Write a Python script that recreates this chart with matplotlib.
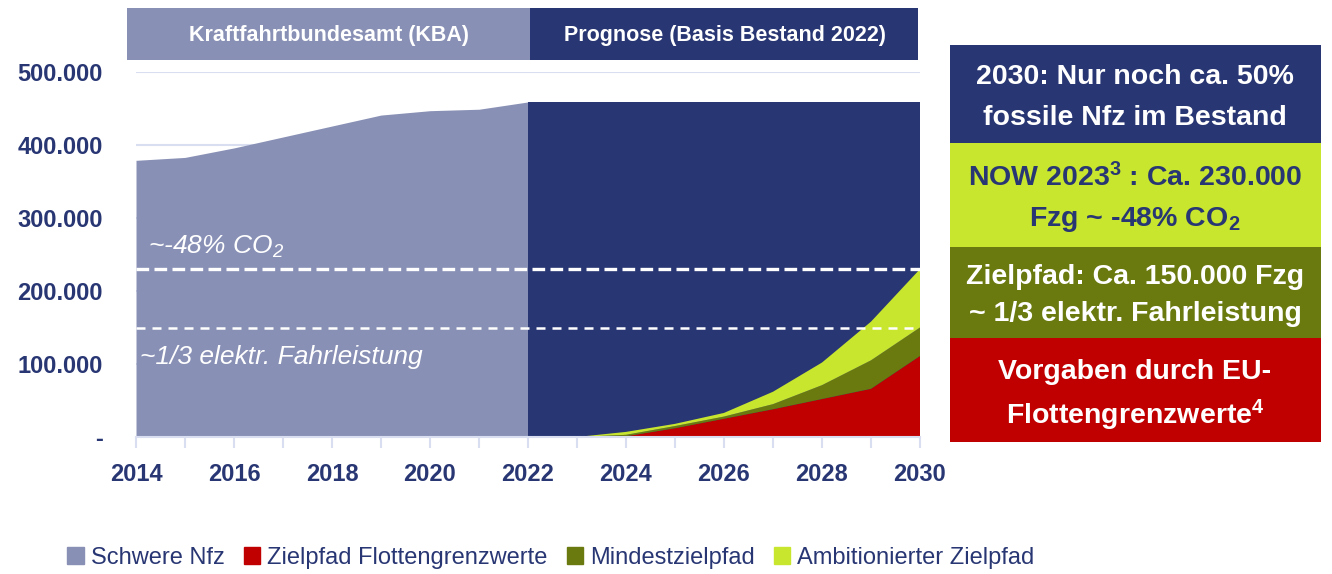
import matplotlib
matplotlib.use("Agg")
import matplotlib.pyplot as plt
from matplotlib.patches import Rectangle, Patch

# Bestand schwere Nfz (KBA bis 2022, danach Prognose konstant)
years_hist = [2014, 2015, 2016, 2017, 2018, 2019, 2020, 2021, 2022]
nfz_hist = [379000, 383000, 396000, 411000, 426000, 441000, 447000, 449000, 459000]
years_prog = [2022, 2030]
nfz_prog = [459000, 459000]

# Elektro-Pfade (gestapelt, jeweils Anteil der Schicht)
years_e = [2023, 2024, 2025, 2026, 2027, 2028, 2029, 2030]
zielpfad = [0, 1000, 12000, 25000, 38000, 52000, 66000, 111000]
mindest = [0, 2000, 3000, 3000, 7000, 19000, 39000, 39000]
ambitioniert = [0, 4000, 3000, 5000, 17000, 31000, 53000, 80000]

line_co2 = 230000
line_fahr = 150000

yticks = [0, 100000, 200000, 300000, 400000, 500000]
ytick_labels = ["-", "100.000", "200.000", "300.000", "400.000", "500.000"]
xticks = [2014, 2016, 2018, 2020, 2022, 2024, 2026, 2028, 2030]

navy = "#283673"
light = "#8890b5"
red = "#c00000"
olive = "#6b7a0f"
lime = "#c8e62e"
grid_c = "#d9def0"

fam = ["Liberation Sans", "DejaVu Sans"]
plt.rcParams["font.family"] = fam

W, H = 1332, 574
def fx(px):
    return px / W
def fy(py):
    return 1 - py / H

fig = plt.figure(figsize=(13.32, 5.74), dpi=100)
ax = fig.add_axes([fx(136), fy(437), fx(920) - fx(136), fy(72) - fy(437)])

for v in yticks[1:]:
    ax.axhline(v, color=grid_c, lw=1.5, zorder=0)

ax.fill_between(years_hist, nfz_hist, color=light, lw=0, zorder=1)
ax.fill_between(years_prog, nfz_prog, color=navy, lw=0, zorder=1)
ax.stackplot(years_e, zielpfad, mindest, ambitioniert,
             colors=[red, olive, lime], lw=0, zorder=2)

ax.axhline(line_co2, color="white", lw=2.4, ls=(0, (3.8, 1.6)), zorder=3)
ax.axhline(line_fahr, color="white", lw=1.8, ls=(0, (3.6, 2.8)), zorder=3)
ax.text(2014.24, line_co2 + 30000, "~-48% $\\mathregular{CO_2}$", color="white",
        style="italic", fontsize=19, va="center", zorder=4)
ax.text(2014.08, line_fahr - 40000, "~1/3 elektr. Fahrleistung", color="white",
        style="italic", fontsize=19, va="center", zorder=4)

ax.set_xlim(2014, 2030)
ax.set_ylim(0, 500000)
ax.set_xticks(xticks)
ax.set_xticks(range(2014, 2031), minor=True)
ax.set_xticklabels([str(x) for x in xticks])
ax.set_yticks(yticks)
ax.set_yticklabels(ytick_labels)
for s in ["top", "right", "left"]:
    ax.spines[s].set_visible(False)
ax.spines["bottom"].set_color(grid_c)
ax.spines["bottom"].set_linewidth(1.5)
ax.tick_params(axis="x", which="both", length=8, color=grid_c, width=1.5,
               labelsize=17, labelcolor=navy, pad=11)
ax.tick_params(axis="y", length=0, labelsize=17, labelcolor=navy, pad=24)
for lab in ax.get_xticklabels() + ax.get_yticklabels():
    lab.set_fontweight("bold")

# Kopfzeilen
fig.add_artist(Rectangle((fx(127), fy(60)), fx(530) - fx(127), fy(8) - fy(60),
                         transform=fig.transFigure, color=light, lw=0))
fig.add_artist(Rectangle((fx(530), fy(60)), fx(918) - fx(530), fy(8) - fy(60),
                         transform=fig.transFigure, color=navy, lw=0))
fig.text(fx(329), fy(35), "Kraftfahrtbundesamt (KBA)", color="white",
         fontsize=15.5, weight="bold", ha="center", va="center")
fig.text(fx(725), fy(35), "Prognose (Basis Bestand 2022)", color="white",
         fontsize=15.5, weight="bold", ha="center", va="center")

# Infoboxen rechts
boxes = [
    (45, 143, navy, "white", "2030: Nur noch ca. 50%", "fossile Nfz im Bestand"),
    (143, 247, lime, navy, "NOW 2023$\\mathregular{^3}$ : Ca. 230.000",
     "Fzg ~ -48% $\\mathregular{CO_2}$"),
    (247, 338, olive, "white", "Zielpfad: Ca. 150.000 Fzg", "~ 1/3 elektr. Fahrleistung"),
    (338, 442, red, "white", "Vorgaben durch EU-", "Flottengrenzwerte$\\mathregular{^4}$"),
]
for top, bot, fc, tc, l1, l2 in boxes:
    fig.add_artist(Rectangle((fx(950), fy(bot)), fx(1321) - fx(950), fy(top) - fy(bot),
                             transform=fig.transFigure, color=fc, lw=0))
    h = bot - top
    fig.text(fx(1135), fy(top + h * 0.33), l1, color=tc, fontsize=20.5,
             weight="bold", ha="center", va="center")
    fig.text(fx(1135), fy(top + h * 0.74), l2, color=tc, fontsize=20.5,
             weight="bold", ha="center", va="center")

handles = [Patch(color=light, label="Schwere Nfz"),
           Patch(color=red, label="Zielpfad Flottengrenzwerte"),
           Patch(color=olive, label="Mindestzielpfad"),
           Patch(color=lime, label="Ambitionierter Zielpfad")]
leg = fig.legend(handles=handles, loc="center", bbox_to_anchor=(fx(551), fy(558)),
                 ncol=4, frameon=False, fontsize=17, handlelength=0.7,
                 handleheight=0.7, handletextpad=0.3, columnspacing=0.8)
for t in leg.get_texts():
    t.set_color(navy)

fig.savefig("out.png", dpi=100)
